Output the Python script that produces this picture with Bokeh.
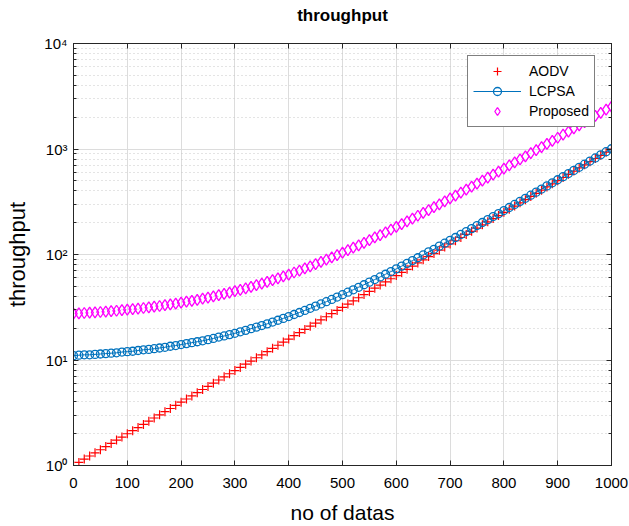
from bokeh.plotting import figure
from bokeh.models import (LinearAxis, LogAxis, FixedTicker, CustomJSTickFormatter,
                          ColumnDataSource, Range1d)
from bokeh.embed import file_html
from bokeh.resources import INLINE

# ---------------- data ----------------
x_vals = list(range(0, 1001, 10))

aodv = [1.00, 1.07, 1.15, 1.23, 1.32, 1.41, 1.51, 1.62, 1.74, 1.86,
        2.00, 2.14, 2.29, 2.45, 2.63, 2.82, 3.02, 3.24, 3.47, 3.72,
        3.98, 4.27, 4.57, 4.90, 5.25, 5.62, 6.03, 6.46, 6.92, 7.41,
        7.94, 8.51, 9.12, 9.77, 10.5, 11.2, 12.0, 12.9, 13.8, 14.8,
        15.8, 17.0, 18.2, 19.5, 20.9, 22.4, 24.0, 25.7, 27.5, 29.5,
        31.6, 33.9, 36.3, 38.9, 41.7, 44.7, 47.9, 51.3, 55.0, 58.9,
        63.1, 67.6, 72.4, 77.6, 83.2, 89.1, 95.5, 102, 110, 118,
        126, 135, 145, 155, 166, 178, 191, 204, 219, 234,
        251, 269, 288, 309, 331, 355, 380, 407, 437, 468,
        501, 537, 575, 617, 661, 708, 759, 813, 871, 933, 1000]

lcpsa = [11.0, 11.1, 11.2, 11.2, 11.3, 11.4, 11.5, 11.6, 11.7, 11.9,
         12.0, 12.1, 12.3, 12.5, 12.6, 12.8, 13.0, 13.2, 13.5, 13.7,
         14.0, 14.3, 14.6, 14.9, 15.2, 15.6, 16.0, 16.5, 16.9, 17.4,
         17.9, 18.5, 19.1, 19.8, 20.5, 21.2, 22.0, 22.9, 23.8, 24.8,
         25.8, 27.0, 28.2, 29.5, 30.9, 32.4, 34.0, 35.7, 37.5, 39.5,
         41.6, 43.9, 46.3, 48.9, 51.7, 54.7, 57.9, 61.3, 65.0, 68.9,
         73.1, 77.6, 82.4, 87.6, 93.2, 99.1, 106, 112, 120, 128,
         136, 145, 155, 165, 176, 188, 201, 214, 229, 244,
         261, 279, 298, 319, 341, 365, 390, 417, 447, 478,
         511, 547, 585, 627, 671, 718, 769, 823, 881, 943, 1005]

proposed = [27.5, 27.7, 27.9, 28.1, 28.3, 28.5, 28.8, 29.1, 29.3, 29.7,
            30.0, 30.3, 30.7, 31.1, 31.6, 32.0, 32.5, 33.1, 33.7, 34.3,
            35.0, 35.7, 36.4, 37.2, 38.1, 39.1, 40.1, 41.2, 42.3, 43.5,
            44.9, 46.3, 47.8, 49.4, 51.2, 53.0, 55.0, 57.2, 59.5, 62.0,
            64.6, 67.5, 70.5, 73.7, 77.2, 81.0, 85.0, 89.3, 93.9, 98.8,
            104, 110, 116, 122, 129, 137, 145, 153, 162, 172,
            183, 194, 206, 219, 233, 248, 264, 281, 299, 319,
            340, 362, 386, 412, 440, 470, 501, 535, 572, 611,
            653, 698, 746, 798, 853, 912, 976, 1044, 1116, 1194,
            1278, 1368, 1464, 1566, 1677, 1795, 1921, 2057, 2203, 2358, 2525]

x_ticks = [0, 100, 200, 300, 400, 500, 600, 700, 800, 900, 1000]

src = ColumnDataSource(dict(x=x_vals, aodv=aodv, lcpsa=lcpsa, proposed=proposed))

FONT = "Liberation Sans"
AX = "#262626"

p = figure(width=629, height=526, y_axis_type="log",
           x_range=Range1d(0, 1000), y_range=Range1d(1, 10000),
           output_backend="svg", toolbar_location=None,
           min_border_left=73, min_border_right=18,
           min_border_top=43, min_border_bottom=59)

p.title.text = "throughput"
p.title.align = "center"
p.title.text_font = FONT
p.title.text_font_size = "17px"
p.title.text_font_style = "bold"
p.title.text_color = "#000000"
p.title.standoff = 6

p.outline_line_color = AX
p.background_fill_color = "white"
p.border_fill_color = "white"

# grids
p.xgrid.ticker = FixedTicker(ticks=x_ticks)
p.xgrid.grid_line_color = "#dcdcdc"
p.ygrid.grid_line_color = "#dcdcdc"
p.ygrid.minor_grid_line_color = "#c8c8c8"
p.ygrid.minor_grid_line_dash = "1 3"

# axes
xa = p.xaxis[0]
xa.ticker = FixedTicker(ticks=x_ticks)
xa.axis_label = "no of datas"
ya = p.yaxis[0]
ya.axis_label = "throughput"
ya.formatter = CustomJSTickFormatter(code="""
const sup = {'0':'\u2070','1':'\u00b9','2':'\u00b2','3':'\u00b3','4':'\u2074','5':'\u2075','-':'\u207b'};
const e = Math.round(Math.log10(tick));
return '10' + String(e).split('').map(c => sup[c]).join('');
""")

for ax in (xa, ya):
    ax.axis_line_color = AX
    ax.major_tick_line_color = AX
    ax.minor_tick_line_color = AX
    ax.major_tick_in = 5
    ax.major_tick_out = 0
    ax.minor_tick_in = 3
    ax.minor_tick_out = 0
    ax.major_label_text_font = FONT
    ax.major_label_text_font_size = "15px"
    ax.major_label_text_color = "#000000"
    ax.axis_label_text_font = FONT
    ax.axis_label_text_font_style = "normal"
    ax.axis_label_text_color = "#000000"
xa.axis_label_text_font_size = "21px"
ya.axis_label_text_font_size = "22px"
xa.minor_tick_line_color = None
xa.major_label_standoff = 12
xa.axis_label_standoff = 10
ya.major_label_standoff = 6
ya.axis_label_standoff = 11

# box ticks on top and right (MATLAB style), no labels; the top one also
# provides the gap between the frame and the title
top = LinearAxis(ticker=FixedTicker(ticks=x_ticks), major_tick_in=5, major_tick_out=0,
                 minor_tick_line_color=None, axis_line_color=AX, major_tick_line_color=AX,
                 formatter=CustomJSTickFormatter(code="return '';"),
                 major_label_text_font_size="1px", major_label_standoff=0,
                 axis_label=" ", axis_label_text_font_size="1px", axis_label_standoff=12)
right = LogAxis(major_tick_in=5, major_tick_out=0, minor_tick_in=3, minor_tick_out=0,
                axis_line_color=AX, major_tick_line_color=AX, minor_tick_line_color=AX,
                formatter=CustomJSTickFormatter(code="return '';"),
                major_label_text_font_size="1px", major_label_standoff=0)
p.add_layout(top, "above")
p.add_layout(right, "right")

# series
p.scatter("x", "aodv", source=src, marker="cross", size=9, line_color="#FF0000",
          line_width=1.2, legend_label="AODV")
p.line("x", "lcpsa", source=src, line_color="#0072BD", line_width=1, legend_label="LCPSA")
p.scatter("x", "lcpsa", source=src, marker="circle", size=8, fill_color=None,
          line_color="#0072BD", line_width=1.3, legend_label="LCPSA")
p.scatter("x", "proposed", source=src, marker="diamond", size=11, fill_color=None,
          line_color="#FF00FF", line_width=1.3, legend_label="Proposed")

lg = p.legend[0]
lg.location = (394, 338)
lg.border_line_color = "#000000"
lg.border_line_width = 1
lg.background_fill_color = "white"
lg.background_fill_alpha = 1
lg.label_text_font = FONT
lg.label_text_font_size = "14px"
lg.label_text_color = "#000000"
lg.glyph_width = 48
lg.glyph_height = 20
lg.label_height = 20
lg.spacing = 0
lg.padding = 5
lg.margin = 0
lg.label_standoff = 8

open("out.html", "w").write(file_html(p, INLINE))
